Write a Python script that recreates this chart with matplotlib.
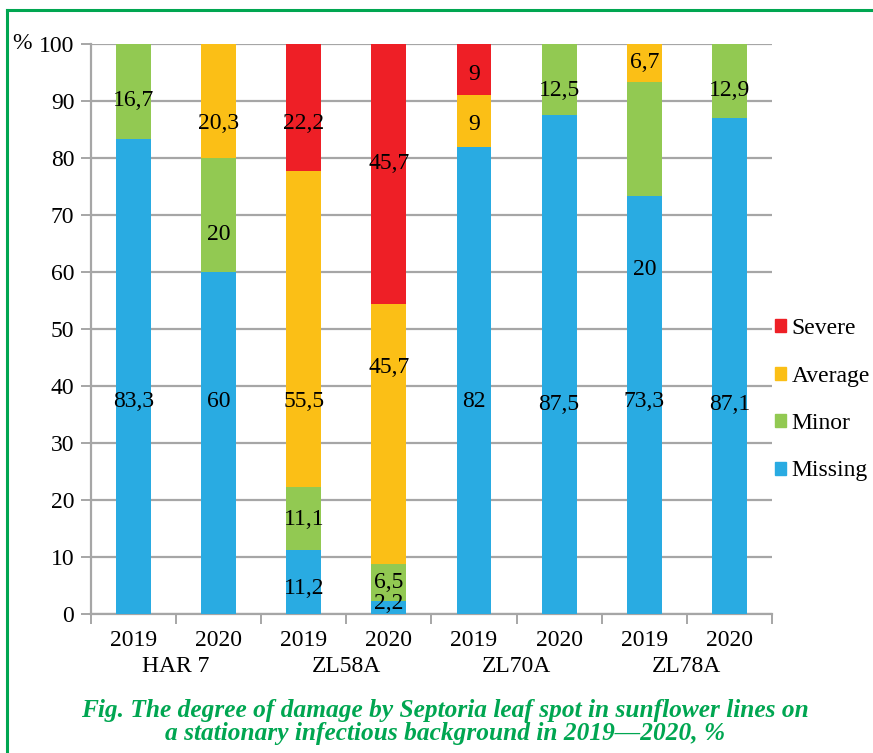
import numpy as np
import matplotlib
matplotlib.use('Agg')
import matplotlib.pyplot as plt
from matplotlib.lines import Line2D
from matplotlib.patches import Patch

# data
years = ['2019', '2020', '2019', '2020', '2019', '2020', '2019', '2020']
lines = ['HAR 7', 'ZL58A', 'ZL70A', 'ZL78A']
missing = [83.3, 60, 11.2, 2.2, 82, 87.5, 73.3, 87.1]
minor = [16.7, 20, 11.1, 6.5, 0, 12.5, 20, 12.9]
average = [0, 20.3, 55.5, 45.7, 9, 0, 6.7, 0]
severe = [0, 0, 22.2, 45.7, 9, 0, 0, 0]

# where the value labels sit (y, in %), None = no label
missing_lab_y = [37.2, 37.2, 4.5, 1.9, 37.2, 36.8, 37.2, 36.8]
minor_lab_y = [90.0, 66.5, 16.5, 5.6, None, 91.9, 60.4, 91.9]
average_lab_y = [None, 86.1, 37.2, 43.2, 85.8, None, 96.8, None]
severe_lab_y = [None, None, 86.1, 79.0, 94.6, None, None, None]

colors = {'Missing': '#29ABE2', 'Minor': '#92C952', 'Average': '#FBBF16', 'Severe': '#EE1F26'}
green = '#00A651'
grid_gray = '#A6A6A6'

plt.rcParams['font.family'] = ['Liberation Serif', 'DejaVu Serif']

fig = plt.figure(figsize=(8.73, 7.53), dpi=100)
ax = fig.add_axes([0.1042, 0.1846, 0.7801, 0.757])

x = np.arange(len(years))
width = 0.41
series = [('Missing', missing, missing_lab_y), ('Minor', minor, minor_lab_y),
          ('Average', average, average_lab_y), ('Severe', severe, severe_lab_y)]

bottom = np.zeros(len(years))
for name, vals, lab_y in series:
    vals = np.array(vals, dtype=float)
    ax.bar(x, vals, width, bottom=bottom, color=colors[name], zorder=3)
    for i, v in enumerate(vals):
        if lab_y[i] is None:
            continue
        txt = ('%g' % v).replace('.', ',')
        ax.text(x[i], lab_y[i], txt, ha='center', va='center', fontsize=17, zorder=5)
    bottom += vals

ax.set_xlim(-0.5, len(years) - 0.5)
ax.set_ylim(0, 100)
ax.set_yticks(np.arange(0, 101, 10))
ax.yaxis.grid(True, color=grid_gray, linewidth=1.6, zorder=0)
ax.set_axisbelow(True)
ax.tick_params(axis='y', labelsize=17, length=7, width=1.4, color=grid_gray, pad=5)

# category boundaries as major ticks, bar centres as small inward ticks
ax.set_xticks(np.arange(-0.5, len(years), 1.0))
ax.set_xticklabels([])
ax.tick_params(axis='x', length=7, width=1.4, color=grid_gray)
ax.set_xticks(x, minor=True)
ax.tick_params(axis='x', which='minor', direction='in', length=4, width=1.2, color=grid_gray)
for i, yr in enumerate(years):
    ax.text(x[i], -4.6, yr, ha='center', va='center', fontsize=17)
for g, name in enumerate(lines):
    ax.text(2 * g + 0.5, -9.2, name, ha='center', va='center', fontsize=17)

for side in ['top', 'right']:
    ax.spines[side].set_visible(False)
for side in ['left', 'bottom']:
    ax.spines[side].set_color(grid_gray)
    ax.spines[side].set_linewidth(1.6)

ax.annotate('%', xy=(0, 100), xycoords=('axes fraction', 'data'), xytext=(-69, 0),
            textcoords='offset pixels', ha='center', va='center', fontsize=17)

handles = [Patch(color=colors[n]) for n in ['Severe', 'Average', 'Minor', 'Missing']]
ax.legend(handles, ['Severe', 'Average', 'Minor', 'Missing'], loc='upper left',
          bbox_to_anchor=(1.004, 0.519), frameon=False, fontsize=17,
          handlelength=0.47, handleheight=0.47, handletextpad=0.25,
          labelspacing=1.12, borderaxespad=0, borderpad=0)

fig.text(0.51, 0.0418, 'Fig. The degree of damage by Septoria leaf spot in sunflower lines on\n'
         'a stationary infectious background in 2019\u20142020, %',
         ha='center', va='center', fontsize=18.3, color=green,
         fontweight='bold', fontstyle='italic', linespacing=1.0)

# green frame (top and left edges visible)
fig.add_artist(Line2D([7 / 873, 1], [1 - 10 / 753, 1 - 10 / 753], color=green, linewidth=2.2,
                      transform=fig.transFigure))
fig.add_artist(Line2D([7 / 873, 7 / 873], [0, 1 - 10 / 753], color=green, linewidth=2.2,
                      transform=fig.transFigure))

fig.savefig('out.png', dpi=100)
